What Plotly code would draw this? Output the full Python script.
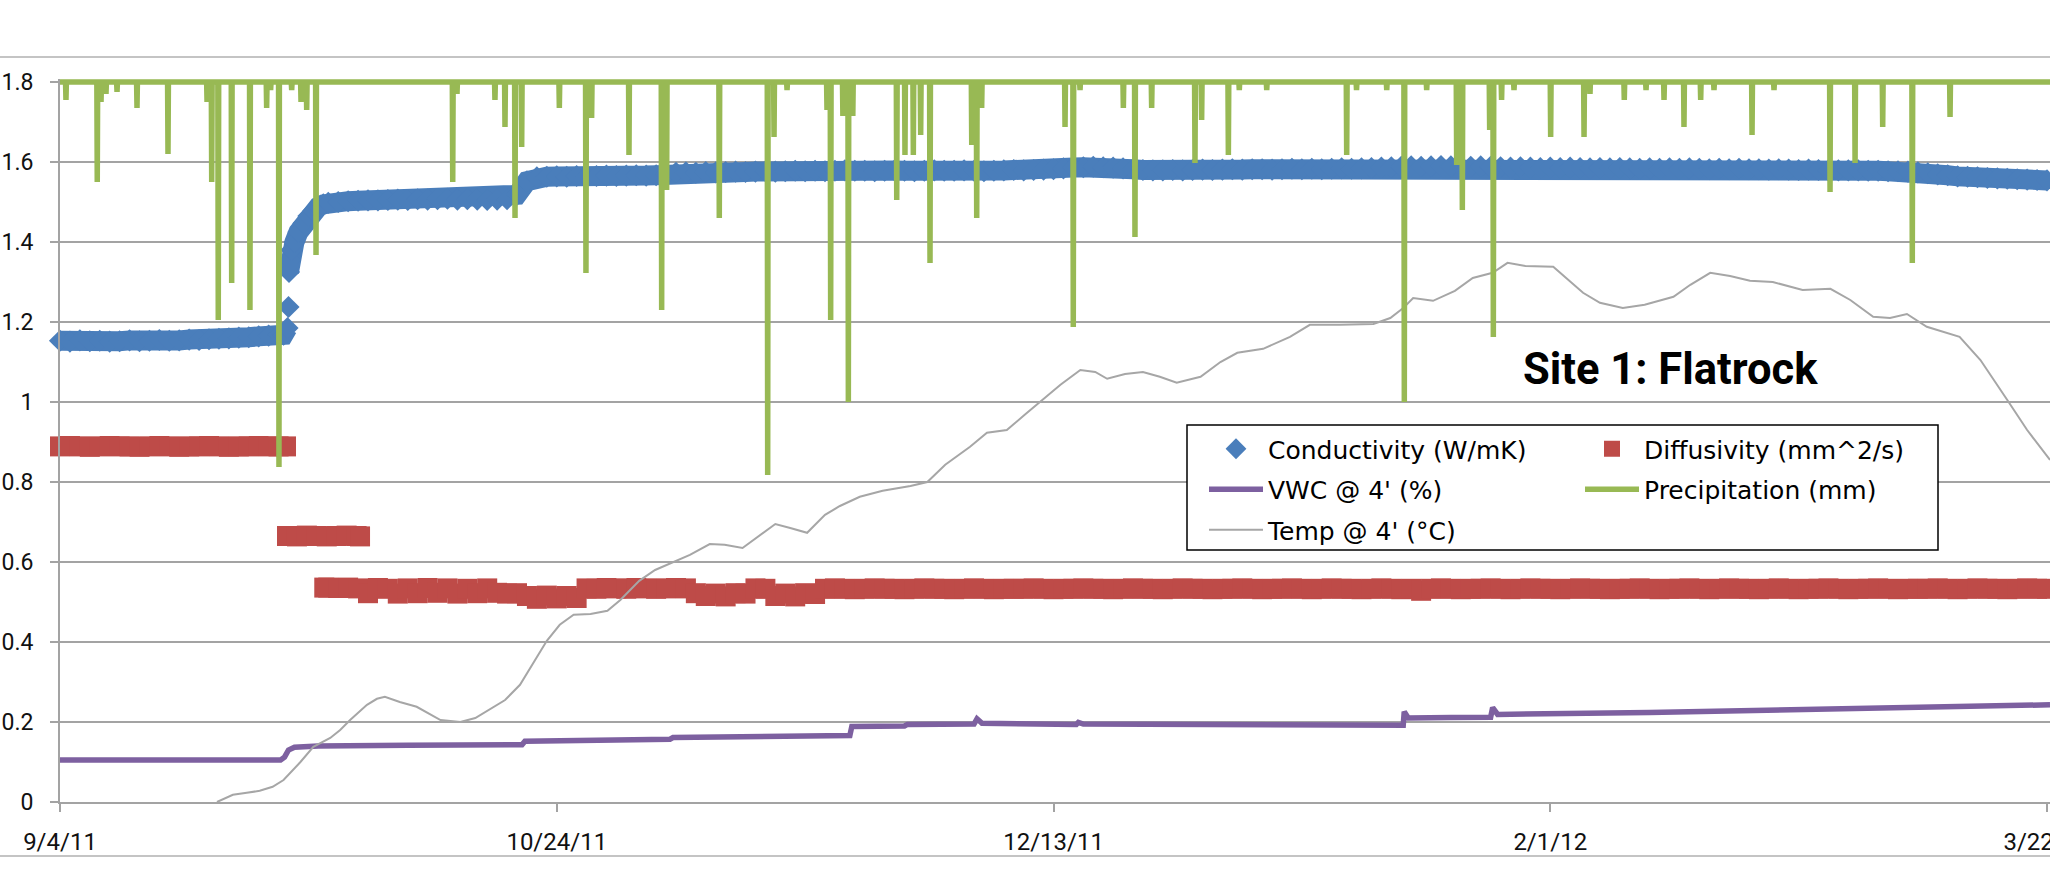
import pandas as pd
import plotly.graph_objects as go

START = pd.Timestamp("2011-09-04")
LAST_DAY = 200.3  # right edge of the time axis, in days after START


def dates(days):
    return [START + pd.Timedelta(days=float(d)) for d in days]


# ---------------- data (days after 9/4/11) ----------------
# Thermal conductivity, daily readings, days 0-22
cond_early = [1.153, 1.151, 1.154, 1.152, 1.153, 1.151, 1.152, 1.154, 1.152, 1.153,
              1.155, 1.153, 1.154, 1.156, 1.155, 1.157, 1.158, 1.159, 1.161, 1.162,
              1.164, 1.166, 1.167]
# readings around the late-September jump (day, W/mK)
cond_jump = [(22.5, 1.168), (22.9, 1.185), (23.0, 1.2375), (23.05, 1.325), (23.15, 1.355),
             (23.3, 1.38), (23.6, 1.40), (24.0, 1.425), (24.5, 1.447), (25.0, 1.465),
             (25.5, 1.478), (26.0, 1.488), (26.5, 1.494), (27.0, 1.498)]
# daily readings, days 28-200
cond_late = [1.500, 1.502, 1.503, 1.504, 1.504, 1.505, 1.506, 1.505, 1.507, 1.506,
             1.507, 1.508, 1.506, 1.507, 1.506, 1.505, 1.506, 1.507,
             1.518, 1.552, 1.562, 1.563, 1.564, 1.563, 1.565, 1.564, 1.565, 1.566,
             1.565, 1.566, 1.567, 1.566, 1.567,
             1.569, 1.573, 1.574, 1.573, 1.575, 1.574, 1.575, 1.576, 1.575, 1.576,
             1.577, 1.576, 1.577, 1.578, 1.577, 1.578, 1.577, 1.578, 1.579, 1.578,
             1.578, 1.577, 1.578, 1.579, 1.578, 1.577, 1.578, 1.579, 1.578, 1.578,
             1.579, 1.578, 1.577, 1.578, 1.579, 1.580, 1.579, 1.580, 1.581, 1.582,
             1.584, 1.586, 1.587, 1.588, 1.587, 1.586, 1.584, 1.582, 1.580, 1.579,
             1.579, 1.580, 1.579, 1.580, 1.581, 1.580, 1.581, 1.582, 1.581, 1.582,
             1.582, 1.581, 1.582, 1.583, 1.582, 1.583, 1.582, 1.583, 1.584, 1.583,
             1.584, 1.585, 1.586, 1.587, 1.588, 1.589, 1.588, 1.589, 1.590, 1.589,
             1.589, 1.588, 1.589, 1.588, 1.587, 1.586, 1.587, 1.586, 1.585, 1.586,
             1.585, 1.586, 1.585, 1.584, 1.585, 1.584, 1.585, 1.584, 1.583, 1.584,
             1.583, 1.584, 1.583, 1.584, 1.583, 1.582, 1.583, 1.582, 1.583, 1.582,
             1.582, 1.581, 1.582, 1.581, 1.580, 1.581, 1.580, 1.579, 1.579, 1.579,
             1.579, 1.578, 1.578, 1.577, 1.577, 1.576, 1.574, 1.572, 1.569, 1.567,
             1.564, 1.563, 1.562, 1.560, 1.559, 1.558, 1.557, 1.556, 1.555, 1.554]

# Thermal diffusivity (day, mm^2/s)
diff_first = [(0, 0.889), (1, 0.890), (2, 0.889), (3, 0.888), (4, 0.889), (5, 0.890),
              (6, 0.889), (7, 0.889), (8, 0.888), (9, 0.889), (10, 0.890), (11, 0.889),
              (12, 0.888), (13, 0.889), (14, 0.889), (15, 0.890), (16, 0.889), (17, 0.888),
              (18, 0.889), (19, 0.889), (20, 0.890), (21, 0.889), (22, 0.889), (22.75, 0.889)]
diff_second = [(22.85, 0.665), (23.85, 0.664), (24.85, 0.666), (25.85, 0.665), (26.85, 0.664),
               (27.85, 0.665), (28.85, 0.666), (29.85, 0.665), (30.2, 0.664)]
diff_third_start = (26.6, 0.536)
# daily readings, days 27-200
diff_third = [0.536, 0.535, 0.536,
              0.534, 0.522, 0.535, 0.533, 0.521, 0.534, 0.522, 0.535, 0.523, 0.534,
              0.521, 0.533, 0.522, 0.534, 0.523, 0.521, 0.522,
              0.515, 0.508, 0.516, 0.509, 0.515, 0.510,
              0.534, 0.533, 0.535, 0.534, 0.533, 0.535, 0.534, 0.533, 0.534, 0.535, 0.534,
              0.522, 0.515, 0.521, 0.514, 0.522, 0.521,
              0.534, 0.533,
              0.515, 0.521, 0.514, 0.522, 0.520,
              0.533, 0.534, 0.533, 0.532, 0.533, 0.534, 0.533, 0.533, 0.532, 0.533,
              0.534, 0.533, 0.533, 0.532, 0.533, 0.534, 0.533, 0.532, 0.533, 0.533,
              0.533, 0.534, 0.533, 0.532, 0.533, 0.533, 0.534, 0.533, 0.533, 0.532,
              0.533, 0.534, 0.533, 0.533, 0.532, 0.533, 0.534, 0.533, 0.533, 0.532,
              0.533, 0.533, 0.534, 0.533, 0.532, 0.533, 0.533, 0.534, 0.533, 0.532,
              0.533, 0.534, 0.533, 0.533, 0.532, 0.533, 0.534, 0.533, 0.532, 0.533,
              0.528, 0.533, 0.534, 0.533, 0.532, 0.533, 0.533, 0.534, 0.533, 0.532,
              0.533, 0.534, 0.533, 0.533, 0.532, 0.533, 0.534, 0.533, 0.533, 0.532,
              0.533, 0.533, 0.534, 0.533, 0.532, 0.533, 0.533, 0.534, 0.533, 0.532,
              0.533, 0.534, 0.533, 0.533, 0.532, 0.533, 0.534, 0.533, 0.532, 0.533,
              0.533, 0.534, 0.533, 0.532, 0.533, 0.533, 0.534, 0.533, 0.532, 0.533,
              0.533, 0.533, 0.534, 0.533, 0.532, 0.533, 0.534, 0.533, 0.533, 0.532,
              0.533, 0.534, 0.533, 0.533]

# Volumetric water content at 4 ft (day, fraction)
vwc_pts = [(0, 0.105), (22.2, 0.105), (22.6, 0.112), (23.0, 0.130), (23.6, 0.137),
           (26, 0.140), (35, 0.142), (46.5, 0.143), (46.8, 0.152), (55, 0.154),
           (61.4, 0.157), (61.7, 0.161), (70, 0.163), (79.5, 0.166), (79.7, 0.189),
           (85.0, 0.190), (85.3, 0.194), (92.0, 0.195), (92.3, 0.208), (92.8, 0.197),
           (102.3, 0.194), (102.5, 0.199), (103.0, 0.195), (110, 0.194), (120, 0.193),
           (126, 0.194), (135.2, 0.192), (135.3, 0.226), (135.7, 0.210), (140, 0.211),
           (144.0, 0.212), (144.2, 0.236), (144.7, 0.219), (160, 0.224), (185, 0.235),
           (200.3, 0.243)]

# Soil temperature at 4 ft (day, value on chart scale)
temp_pts = [(15.8, 0.0), (17.4, 0.018), (18.8, 0.023), (20.1, 0.028), (21.4, 0.038),
            (22.5, 0.055), (24.2, 0.100), (25.5, 0.138), (27.2, 0.160), (28.2, 0.180),
            (29.2, 0.205), (30.9, 0.243), (31.9, 0.258), (32.7, 0.263), (34.2, 0.250),
            (35.9, 0.238), (38.3, 0.205), (40.3, 0.200), (41.8, 0.210), (43.0, 0.228),
            (44.8, 0.255), (46.3, 0.293), (49.0, 0.403), (50.3, 0.443), (51.7, 0.468),
            (53.4, 0.470), (55.1, 0.478), (56.4, 0.505), (58.3, 0.553), (59.9, 0.580),
            (61.6, 0.598), (63.4, 0.618), (65.4, 0.645), (66.9, 0.643), (68.7, 0.635),
            (70.5, 0.668), (72.0, 0.695), (73.5, 0.685), (75.2, 0.673), (77.0, 0.718),
            (78.5, 0.740), (80.5, 0.763), (82.8, 0.778), (85.6, 0.790), (87.3, 0.800),
            (89.1, 0.843), (91.6, 0.888), (93.3, 0.923), (95.3, 0.930), (97.1, 0.968),
            (98.9, 1.005), (100.7, 1.043), (102.7, 1.080), (104.2, 1.075), (105.4, 1.058),
            (107.2, 1.070), (109.0, 1.075), (110.7, 1.063), (112.4, 1.048), (114.8, 1.063),
            (116.8, 1.100), (118.5, 1.123), (121.1, 1.133), (123.8, 1.163), (125.8, 1.193),
            (128.8, 1.193), (132.2, 1.195), (133.9, 1.210), (135.2, 1.235), (136.2, 1.260),
            (138.2, 1.253), (140.4, 1.278), (142.2, 1.310), (144.2, 1.323), (145.7, 1.348),
            (147.5, 1.340), (150.3, 1.338), (151.8, 1.305), (153.3, 1.273), (155.0, 1.248),
            (157.3, 1.235), (159.5, 1.243), (162.4, 1.263), (164.1, 1.293), (166.1, 1.323),
            (168.1, 1.315), (170.1, 1.303), (172.4, 1.300), (175.4, 1.280), (178.2, 1.283),
            (180.2, 1.255), (182.5, 1.213), (184.2, 1.210), (185.9, 1.220), (187.9, 1.188),
            (191.2, 1.163), (193.3, 1.105), (196.0, 1.005), (198.0, 0.930), (200.3, 0.855)]

# Hourly rainfall events (day, mm); all other hours are dry
rain_events = [(0.60, 0.9), (3.75, 5.0), (4.13, 1.0), (4.63, 0.6), (5.74, 0.5), (7.75, 1.3),
               (10.87, 3.6), (14.8, 1.0), (15.27, 5.0), (15.93, 11.9), (17.28, 10.05),
               (19.12, 11.4), (20.8, 1.3), (21.2, 0.4), (22.04, 19.25), (23.32, 0.4),
               (24.26, 1.0), (24.83, 1.4), (25.77, 8.65), (39.53, 5.0), (39.96, 0.6),
               (43.78, 0.9), (44.79, 2.25), (45.80, 6.8), (46.47, 3.25), (50.26, 1.3),
               (52.94, 9.55), (53.51, 1.8), (57.27, 3.65), (60.56, 11.4), (61.06, 5.4),
               (66.36, 6.8), (71.23, 19.65), (71.87, 2.75), (73.18, 0.4), (77.2, 1.4),
               (77.57, 11.9), (78.8, 1.7), (79.35, 16.0), (79.8, 1.7), (84.22, 5.9),
               (85.05, 3.65), (85.89, 3.65), (86.63, 2.65), (87.57, 9.05), (91.77, 3.15),
               (92.27, 6.8), (92.77, 1.3), (101.16, 2.25), (101.99, 12.25), (102.67, 0.4),
               (107.03, 1.3), (108.2, 7.75), (109.88, 1.3), (114.24, 4.05), (114.91, 1.9),
               (117.6, 3.65), (118.7, 0.4), (121.46, 0.4), (129.51, 3.65), (130.5, 0.4),
               (133.54, 0.4), (135.31, 16.0), (137.56, 0.4), (140.58, 4.15), (141.15, 6.4),
               (143.9, 2.4), (144.27, 12.75), (145.1, 0.9), (146.35, 0.4), (150.04, 2.75),
               (153.4, 2.75), (154.0, 0.6), (157.45, 0.9), (159.64, 0.4), (161.45, 0.9),
               (163.46, 2.25), (165.14, 0.9), (166.48, 0.4), (170.31, 2.65), (172.52, 0.4),
               (178.16, 5.5), (180.68, 4.05), (183.46, 2.25), (186.44, 9.05), (190.24, 1.75)]

tick_days = [0, 50, 100, 150, 200]
tick_labels = ["9/4/11", "10/24/11", "12/13/11", "2/1/12", "3/22/12"]

# ---------------- series assembly ----------------
cond_days = list(range(len(cond_early))) + [d for d, _ in cond_jump] + \
    list(range(28, 28 + len(cond_late)))
cond_vals = cond_early + [v for _, v in cond_jump] + cond_late

# continuous band underneath the diamonds, broken at the sudden jump
split = 2 + len(cond_early)
band_days = cond_days[:split] + [None] + cond_days[split + 1:]
band_vals = cond_vals[:split] + [None] + cond_vals[split + 1:]
band_x = [START + pd.Timedelta(days=float(d)) if d is not None else None for d in band_days]

diff_days = [d for d, _ in diff_first] + [d for d, _ in diff_second] + \
    [diff_third_start[0]] + list(range(27, 27 + len(diff_third)))
diff_vals = [v for _, v in diff_first] + [v for _, v in diff_second] + \
    [diff_third_start[1]] + diff_third

hour = 1.0 / 24
rain_t, rain_v = [0.0], [0.0]
for d, mm in sorted(rain_events):
    rain_t += [d - hour, d, d + hour]
    rain_v += [0.0, mm, 0.0]
rain_t.append(LAST_DAY)
rain_v.append(0.0)

# ---------------- styling ----------------
BLUE = "#4a7ebb"
RED = "#be4b48"
PURPLE = "#7d60a0"
GREEN = "#98b954"
GREY = "#a6a6a6"
GRID = "#a3a3a3"
X_TICK_FONT = dict(family="Roboto, 'Open Sans', sans-serif", size=24, color="#111111")
Y_TICK_FONT = dict(family="Roboto, 'Open Sans', sans-serif", size=23, color="#111111")
LEG_FONT = dict(family="'DejaVu Sans', sans-serif", size=25, color="#000000")

fig = go.Figure()

fig.add_trace(go.Scatter(
    x=band_x, y=band_vals, mode="lines", line=dict(color=BLUE, width=20),
    showlegend=False, hoverinfo="skip", connectgaps=False))
fig.add_trace(go.Scatter(
    x=dates(cond_days), y=cond_vals, mode="markers", name="Conductivity (W/mK)",
    marker=dict(symbol="diamond", size=17, color=BLUE, line=dict(width=0)),
    cliponaxis=False, legend="legend", legendgroup="c"))
fig.add_trace(go.Scatter(
    x=dates(diff_days), y=diff_vals, mode="markers", name="Diffusivity (mm^2/s)",
    marker=dict(symbol="square", size=20, color=RED, line=dict(width=0)),
    cliponaxis=False, legend="legend2", legendgroup="d"))
fig.add_trace(go.Scatter(
    x=dates([d for d, _ in vwc_pts]), y=[v for _, v in vwc_pts], mode="lines",
    name="VWC @ 4' (%)", line=dict(color=PURPLE, width=5.5),
    legend="legend", legendgroup="v"))
fig.add_trace(go.Scatter(
    x=dates([d for d, _ in temp_pts]), y=[v for _, v in temp_pts], mode="lines",
    name="Temp @ 4' (°C)", line=dict(color=GREY, width=2),
    legend="legend", legendgroup="t"))
fig.add_trace(go.Scatter(
    x=dates(rain_t), y=rain_v, mode="lines", yaxis="y2",
    name="Precipitation (mm)", line=dict(color=GREEN, width=5.5),
    legend="legend2", legendgroup="p"))

# plot area: x 60..2050 px, y 79..802 px (1.8 sits at 82 px)
PLOT_TOP, PLOT_BOTTOM, PLOT_LEFT = 79, 802, 60
PLOT_H = PLOT_BOTTOM - PLOT_TOP
PLOT_W = 2050 - PLOT_LEFT


def px(x):
    return (x - PLOT_LEFT) / PLOT_W


def py(y):
    return (PLOT_BOTTOM - y) / PLOT_H


legend_common = dict(
    xanchor="left", yanchor="top", bgcolor="rgba(0,0,0,0)", borderwidth=0,
    font=LEG_FONT, traceorder="grouped", tracegroupgap=5, itemwidth=54,
)

fig.update_layout(
    width=2050, height=880,
    margin=dict(l=PLOT_LEFT, r=0, t=PLOT_TOP, b=880 - PLOT_BOTTOM),
    paper_bgcolor="white", plot_bgcolor="white",
    xaxis=dict(
        type="date",
        range=[START, START + pd.Timedelta(days=LAST_DAY)],
        tickvals=dates(tick_days), ticktext=tick_labels,
        showgrid=False, showline=True, linecolor=GRID, linewidth=2,
        ticks="outside", ticklen=8, tickwidth=2, tickcolor=GRID,
        tickfont=X_TICK_FONT, ticklabelstandoff=9, ticklabeloverflow="allow",
        automargin=False, zeroline=False,
    ),
    yaxis=dict(
        range=[0, 1.8075], tick0=0, dtick=0.2,
        showgrid=True, gridcolor=GRID, gridwidth=2,
        showline=True, linecolor=GRID, linewidth=2,
        ticks="outside", ticklen=8, tickwidth=2, tickcolor=GRID,
        tickfont=Y_TICK_FONT, ticklabelstandoff=12, automargin=False, zeroline=False,
    ),
    yaxis2=dict(
        overlaying="y", side="right", range=[36, -0.15], visible=False,
        showgrid=False, zeroline=False,
    ),
    legend=dict(x=px(1204), y=py(426), **legend_common),
    legend2=dict(x=px(1580), y=py(426), **legend_common),
    showlegend=True,
    shapes=[
        # legend frame
        dict(type="rect", xref="paper", yref="paper",
             x0=px(1187), x1=px(1938), y0=py(550), y1=py(425),
             fillcolor="white", line=dict(color="#000000", width=1.5), layer="above"),
        # chart-area frame lines
        dict(type="line", xref="paper", yref="paper", x0=-0.1, x1=1.1,
             y0=py(57), y1=py(57), line=dict(color="#c4c4c4", width=2)),
        dict(type="line", xref="paper", yref="paper", x0=-0.1, x1=1.1,
             y0=py(856), y1=py(856), line=dict(color="#c4c4c4", width=2)),
    ],
    annotations=[
        dict(text="<b>Site 1: Flatrock</b>", xref="paper", yref="paper",
             x=px(1670), y=py(369), xanchor="center", yanchor="middle",
             showarrow=False,
             font=dict(family="Roboto, 'Open Sans', sans-serif", size=43.5, color="#000000")),
    ],
)

fig.write_html("out.html")
